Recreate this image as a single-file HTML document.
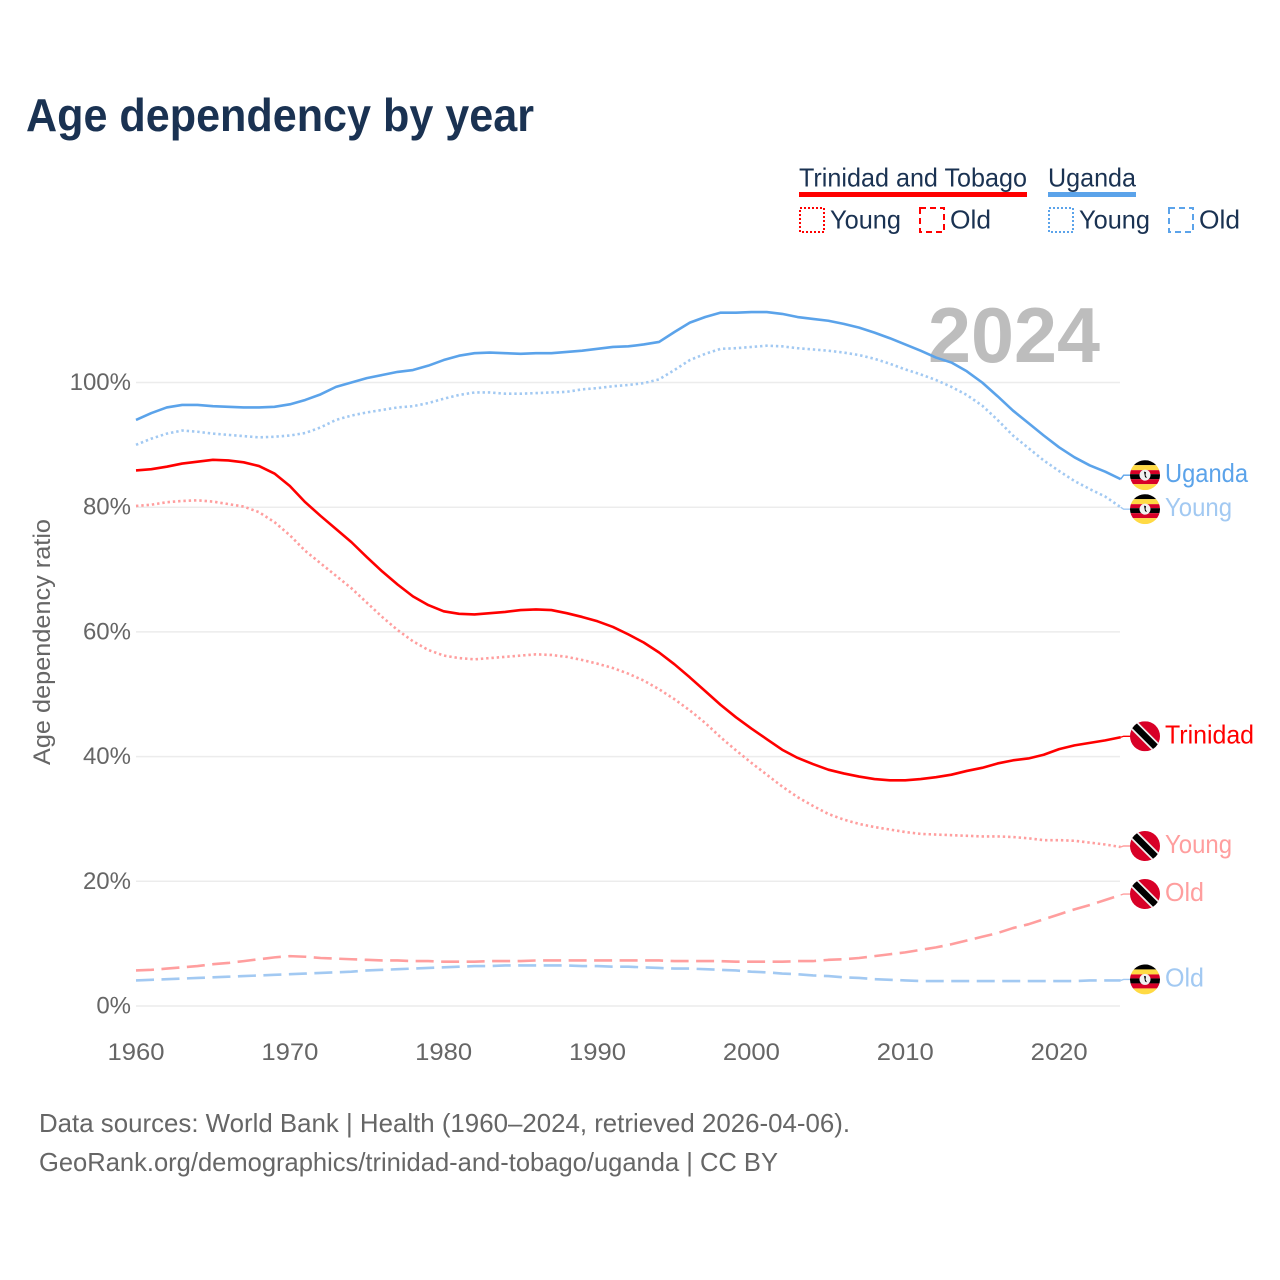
<!DOCTYPE html>
<html lang="en">
<head>
<meta charset="utf-8">
<title>Age dependency by year</title>
<style>
html,body{margin:0;padding:0;background:#fff;width:1280px;height:1280px;overflow:hidden}
svg{display:block}
text{font-family:"Liberation Sans",Arial,sans-serif}
</style>
</head>
<body>
<svg id="chart" xmlns="http://www.w3.org/2000/svg" width="1280" height="1280" viewBox="0 0 1280 1280">
  <defs>
    <clipPath id="flag-clip"><circle cx="0" cy="0" r="15"/></clipPath>
    <g id="flag-ug">
      <g clip-path="url(#flag-clip)">
        <rect x="-15" y="-15" width="30" height="5" fill="#000"/>
        <rect x="-15" y="-10" width="30" height="5" fill="#ffda44"/>
        <rect x="-15" y="-5" width="30" height="4" fill="#d80027"/>
        <rect x="-15" y="-1" width="30" height="5" fill="#000"/>
        <rect x="-15" y="4" width="30" height="5" fill="#d80027"/>
        <rect x="-15" y="9" width="30" height="6" fill="#ffda44"/>
        <circle cx="0" cy="0" r="5.5" fill="#f0f0f0"/>
        <path d="M-1-3.5 L1-3 L0.5 0 L2 3 L0 2 Z" fill="#000"/>
      </g>
    </g>
    <g id="flag-tt">
      <g clip-path="url(#flag-clip)">
        <rect x="-15" y="-15" width="30" height="30" fill="#d80027"/>
        <line x1="-13" y1="-13" x2="13" y2="13" stroke="#f0f0f0" stroke-width="10"/>
        <line x1="-13" y1="-13" x2="13" y2="13" stroke="#000" stroke-width="6.5"/>
      </g>
    </g>
  </defs>

  <text x="26" y="131" font-size="46" font-weight="700" fill="#1a3252" textLength="508" lengthAdjust="spacingAndGlyphs">Age dependency by year</text>

  <g>
    <text x="799" y="186.5" font-size="26" fill="#1a3252" textLength="228" lengthAdjust="spacingAndGlyphs">Trinidad and Tobago</text>
    <rect x="799" y="192" width="228" height="5" fill="#ff0000"/>
    <text x="1048" y="186.5" font-size="26" fill="#1a3252" textLength="88" lengthAdjust="spacingAndGlyphs">Uganda</text>
    <rect x="1048" y="192" width="88" height="5" fill="#5ba3ea"/>

    <rect x="800" y="208" width="24" height="24" fill="none" stroke="#ff0000" stroke-width="2" stroke-dasharray="2 2"/>
    <text x="830" y="228.5" font-size="26" fill="#1a3252" textLength="71" lengthAdjust="spacingAndGlyphs">Young</text>
    <rect x="920" y="208" width="24" height="24" fill="none" stroke="#ff0000" stroke-width="2" stroke-dasharray="6 4"/>
    <text x="950" y="228.5" font-size="26" fill="#1a3252" textLength="41" lengthAdjust="spacingAndGlyphs">Old</text>
    <rect x="1049" y="208" width="24" height="24" fill="none" stroke="#5ba3ea" stroke-width="2" stroke-dasharray="2 2"/>
    <text x="1079" y="228.5" font-size="26" fill="#1a3252" textLength="71" lengthAdjust="spacingAndGlyphs">Young</text>
    <rect x="1169" y="208" width="24" height="24" fill="none" stroke="#5ba3ea" stroke-width="2" stroke-dasharray="6 4"/>
    <text x="1199" y="228.5" font-size="26" fill="#1a3252" textLength="41" lengthAdjust="spacingAndGlyphs">Old</text>
  </g>

  <text x="50" y="642" font-size="24" fill="#666" text-anchor="middle" transform="rotate(-90 50 642)" textLength="246" lengthAdjust="spacingAndGlyphs">Age dependency ratio</text>

  <g id="y-axis"></g>
  <g id="x-axis"></g>
  <text x="1100" y="362" font-size="78" font-weight="700" fill="#bdbdbd" text-anchor="end" textLength="172" lengthAdjust="spacingAndGlyphs">2024</text>
  <g id="series"></g>
  <g id="end-labels"></g>

  <text x="39" y="1132" font-size="26" fill="#666" textLength="811" lengthAdjust="spacingAndGlyphs">Data sources: World Bank | Health (1960–2024, retrieved 2026-04-06).</text>
  <text x="39" y="1171" font-size="26" fill="#666" textLength="739" lengthAdjust="spacingAndGlyphs">GeoRank.org/demographics/trinidad-and-tobago/uganda | CC BY</text>
</svg>
<script>
const firstYear = 1960;
const xTicks = [1960, 1970, 1980, 1990, 2000, 2010, 2020];
const yTicks = [0, 20, 40, 60, 80, 100];

const ugandaTotal = [94.0,95.1,96.0,96.4,96.4,96.2,96.1,96.0,96.0,96.1,96.5,97.2,98.1,99.3,100.0,100.7,101.2,101.7,102.0,102.7,103.6,104.3,104.7,104.8,104.7,104.6,104.7,104.7,104.9,105.1,105.4,105.7,105.8,106.1,106.5,108.1,109.6,110.5,111.2,111.2,111.3,111.3,111.0,110.5,110.2,109.9,109.4,108.8,108.0,107.1,106.1,105.1,104.0,103.2,101.8,100.0,97.8,95.5,93.5,91.5,89.6,88.0,86.7,85.7,84.5];
const ugandaYoung = [90.0,91.0,91.8,92.3,92.1,91.8,91.6,91.4,91.2,91.3,91.5,91.9,92.8,94.0,94.7,95.2,95.6,96.0,96.2,96.7,97.4,98.0,98.4,98.4,98.2,98.2,98.3,98.4,98.5,98.9,99.1,99.4,99.6,99.9,100.5,102.0,103.6,104.6,105.4,105.5,105.7,105.9,105.8,105.5,105.3,105.1,104.8,104.4,103.8,103.0,102.1,101.3,100.4,99.3,98.0,96.3,94.0,91.5,89.5,87.5,85.8,84.2,82.9,81.7,80.0];
const ugandaOld = [4.1,4.2,4.3,4.4,4.5,4.6,4.7,4.8,4.9,5.0,5.1,5.2,5.3,5.4,5.5,5.7,5.8,5.9,6.0,6.1,6.2,6.3,6.4,6.4,6.5,6.5,6.5,6.5,6.5,6.4,6.4,6.3,6.3,6.2,6.1,6.0,6.0,5.9,5.8,5.7,5.5,5.4,5.2,5.1,4.9,4.8,4.6,4.5,4.3,4.2,4.1,4.0,4.0,4.0,4.0,4.0,4.0,4.0,4.0,4.0,4.0,4.0,4.1,4.1,4.1];
const trinidadTotal = [85.9,86.1,86.5,87.0,87.3,87.6,87.5,87.2,86.6,85.4,83.4,80.8,78.6,76.5,74.4,72.0,69.7,67.6,65.7,64.3,63.3,62.9,62.8,63.0,63.2,63.5,63.6,63.5,63.0,62.4,61.7,60.8,59.6,58.3,56.7,54.8,52.7,50.5,48.3,46.3,44.5,42.8,41.1,39.8,38.8,37.9,37.3,36.8,36.4,36.2,36.2,36.4,36.7,37.1,37.7,38.2,38.9,39.4,39.7,40.3,41.2,41.8,42.2,42.6,43.1];
const trinidadYoung = [80.2,80.4,80.8,81.0,81.1,80.9,80.5,80.1,79.2,77.6,75.5,73.0,71.0,69.0,67.0,64.7,62.4,60.3,58.5,57.1,56.2,55.8,55.6,55.8,56.0,56.2,56.4,56.3,56.0,55.5,54.9,54.2,53.3,52.2,50.8,49.2,47.4,45.4,43.1,41.0,39.0,37.1,35.2,33.5,32.1,30.8,29.9,29.2,28.7,28.3,27.9,27.6,27.5,27.4,27.3,27.2,27.2,27.1,26.9,26.6,26.6,26.5,26.2,25.9,25.5];
const trinidadOld = [5.7,5.8,6.0,6.2,6.4,6.7,6.9,7.2,7.5,7.8,8.0,7.9,7.7,7.6,7.5,7.4,7.3,7.3,7.2,7.2,7.1,7.1,7.1,7.2,7.2,7.2,7.3,7.3,7.3,7.3,7.3,7.3,7.3,7.3,7.3,7.2,7.2,7.2,7.2,7.1,7.1,7.1,7.1,7.2,7.2,7.4,7.5,7.7,8.0,8.3,8.6,9.0,9.4,9.9,10.5,11.1,11.7,12.5,13.1,13.9,14.7,15.5,16.2,17.0,17.8];

const NS = 'http://www.w3.org/2000/svg';
const xScale = year => 136 + (year - firstYear) * 15.385;
const yScale = value => 1006 - value * 6.235;
const DOTTED = '2.4 2.9';
const DASHED = '18 7.5';
const labelGap = 34;

function make(tag, attrs, parent, text) {
  const el = document.createElementNS(NS, tag);
  for (const k in attrs) el.setAttribute(k, attrs[k]);
  if (text !== undefined) el.textContent = text;
  parent.appendChild(el);
  return el;
}

const yAxis = document.getElementById('y-axis');
yTicks.forEach(t => {
  const y = yScale(t);
  const grid = make('line', {x1: 136, x2: 1120, y1: y, y2: y, stroke: '#ececec', 'stroke-width': 1.5}, yAxis);
  
  
  const label = make('text', {x: 131, y: y + 7.5, 'font-size': 24, fill: '#666', 'text-anchor': 'end'}, yAxis, t + '%');
  
  
});

const xAxis = document.getElementById('x-axis');
xTicks.forEach(t => {
  const label = make('text', {x: xScale(t), y: 1060, 'font-size': 24, fill: '#666', 'text-anchor': 'middle', textLength: 57, lengthAdjust: 'spacingAndGlyphs'}, xAxis, t);
  
  
});

const seriesList = [
  {id: 'trinidad-old', values: trinidadOld, color: '#ff9e9e', dash: DASHED, label: 'Old', flag: 'flag-tt', width: 39},
  {id: 'uganda-old', values: ugandaOld, color: '#a2c9f2', dash: DASHED, label: 'Old', flag: 'flag-ug', width: 39},
  {id: 'trinidad-young', values: trinidadYoung, color: '#ff9e9e', dash: DOTTED, label: 'Young', flag: 'flag-tt', width: 67},
  {id: 'uganda-young', values: ugandaYoung, color: '#a2c9f2', dash: DOTTED, label: 'Young', flag: 'flag-ug', width: 67},
  {id: 'trinidad-total', values: trinidadTotal, color: '#ff0000', dash: null, label: 'Trinidad', flag: 'flag-tt', width: 89},
  {id: 'uganda-total', values: ugandaTotal, color: '#5ba3ea', dash: null, label: 'Uganda', flag: 'flag-ug', width: 83}
];

const seriesGroup = document.getElementById('series');
seriesList.forEach(s => {
  const d = s.values.map((v, i) => (i ? 'L' : 'M') + xScale(firstYear + i).toFixed(2) + ' ' + yScale(v).toFixed(2)).join(' ');
  const attrs = {d: d, fill: 'none', stroke: s.color, 'stroke-width': 2.6, 'stroke-linejoin': 'round'};
  if (s.dash) attrs['stroke-dasharray'] = s.dash;
  const line = make('path', attrs, seriesGroup);
  
  
});

/* end labels: placed at the series' last value, pushed apart when they collide */
const placed = seriesList.map(s => {
  const endY = yScale(s.values[s.values.length - 1]);
  return {s: s, endY: endY, labelY: endY - 1};
}).sort((a, b) => a.endY - b.endY);
for (let i = 1; i < placed.length; i++) {
  const gap = placed[i].labelY - placed[i - 1].labelY;
  if (gap < labelGap) {
    const push = (labelGap - gap) / 2;
    placed[i - 1].labelY -= push;
    placed[i].labelY += push;
  }
}

const endLabels = document.getElementById('end-labels');
placed.forEach(p => {
  const x = xScale(firstYear + p.s.values.length - 1);
  const connector = make('path', {d: 'M' + x + ' ' + p.endY + ' L' + (x + 3) + ' ' + p.labelY + ' L1131 ' + p.labelY, fill: 'none', stroke: p.s.color, 'stroke-width': 1.4}, endLabels);
  
  
  const flag = make('use', {href: '#' + p.s.flag, transform: 'translate(1145 ' + p.labelY + ')'}, endLabels);
  
  
  const label = make('text', {x: 1165, y: p.labelY + 7, 'font-size': 26, fill: p.s.color, textLength: p.s.width, lengthAdjust: 'spacingAndGlyphs'}, endLabels, p.s.label);
  
  
});
</script>
</body>
</html>
